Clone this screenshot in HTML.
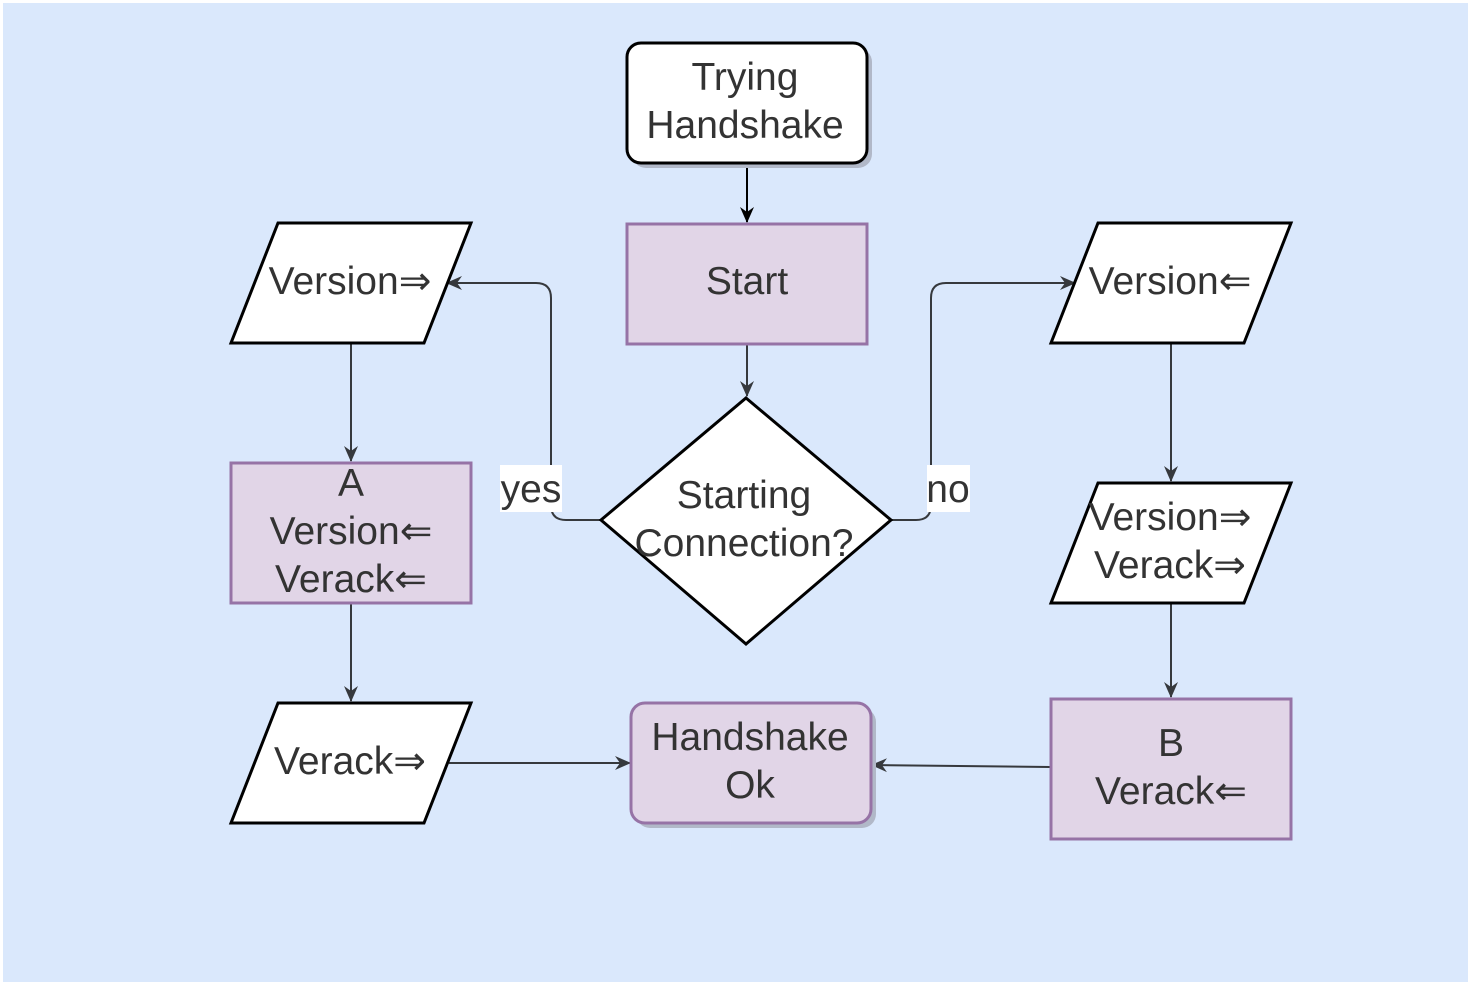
<!DOCTYPE html>
<html><head><style>html,body{margin:0;padding:0;background:#fff}svg{display:block}text{font-family:"Liberation Sans",sans-serif;font-size:39px;fill:#333;text-anchor:middle}</style></head><body>
<svg width="1470" height="984" viewBox="0 0 1470 984" xmlns="http://www.w3.org/2000/svg">
<defs><marker id="a" markerWidth="16" markerHeight="16" refX="15" refY="8" orient="auto" markerUnits="userSpaceOnUse"><path d="M0,1 L16,8 L0,15 L5,8 Z" fill="#36393d"/></marker>
<marker id="b" markerWidth="16" markerHeight="16" refX="15" refY="8" orient="auto" markerUnits="userSpaceOnUse"><path d="M0,1 L16,8 L0,15 L5,8 Z" fill="#000"/></marker></defs>
<rect x="3" y="3" width="1465" height="979" fill="#dae8fc"/>
<g fill="none" stroke="#36393d" stroke-width="2">
<path d="M747,163 V222" stroke="#000" marker-end="url(#b)"/>
<path d="M747,345 V396" marker-end="url(#a)"/>
<path d="M601,520 H566 Q551,520 551,505 V298 Q551,283 536,283 H447" marker-end="url(#a)"/>
<path d="M891,520 H916 Q931,520 931,505 V298 Q931,283 946,283 H1075" marker-end="url(#a)"/>
<path d="M351,344 V461" marker-end="url(#a)"/>
<path d="M351,604 V701" marker-end="url(#a)"/>
<path d="M449,763 H630" marker-end="url(#a)"/>
<path d="M1171,344 V481" marker-end="url(#a)"/>
<path d="M1171,604 V697" marker-end="url(#a)"/>
<path d="M1050,767 L872,765" marker-end="url(#a)"/>
</g>
<rect x="500" y="465" width="62" height="47" fill="#fff"/>
<text x="531" y="502">yes</text>
<rect x="927" y="465" width="43" height="47" fill="#fff"/>
<text x="948" y="502">no</text>
<rect x="632" y="48" width="240" height="120" rx="14" fill="#b1b8c8"/>
<rect x="627" y="43" width="240" height="120" rx="14" fill="#fff" stroke="#000" stroke-width="3"/>
<text x="745" y="90">Trying</text><text x="745" y="138">Handshake</text>
<rect x="627" y="224" width="240" height="120" fill="#e1d5e7" stroke="#9673a6" stroke-width="3"/>
<text x="747" y="294">Start</text>
<path d="M746,398 L891,520 L746,644 L601,520 Z" fill="#fff" stroke="#000" stroke-width="3"/>
<text x="744" y="508">Starting</text><text x="744" y="556">Connection?</text>
<path d="M278,223 H471 L424,343 H231 Z" fill="#fff" stroke="#000" stroke-width="3"/>
<text x="350" y="294">Version⇒</text>
<rect x="231" y="463" width="240" height="140" fill="#e1d5e7" stroke="#9673a6" stroke-width="3"/>
<text x="351" y="496">A</text><text x="351" y="544">Version⇐</text><text x="351" y="592">Verack⇐</text>
<path d="M278,703 H471 L424,823 H231 Z" fill="#fff" stroke="#000" stroke-width="3"/>
<text x="350" y="774">Verack⇒</text>
<rect x="636" y="708" width="240" height="120" rx="14" fill="#b1b8c8"/>
<rect x="631" y="703" width="240" height="120" rx="14" fill="#e1d5e7" stroke="#9673a6" stroke-width="3"/>
<text x="750" y="750">Handshake</text><text x="750" y="798">Ok</text>
<path d="M1098,223 H1291 L1244,343 H1051 Z" fill="#fff" stroke="#000" stroke-width="3"/>
<text x="1170" y="294">Version⇐</text>
<path d="M1098,483 H1291 L1244,603 H1051 Z" fill="#fff" stroke="#000" stroke-width="3"/>
<text x="1170" y="530">Version⇒</text><text x="1170" y="578">Verack⇒</text>
<rect x="1051" y="699" width="240" height="140" fill="#e1d5e7" stroke="#9673a6" stroke-width="3"/>
<text x="1171" y="756">B</text><text x="1171" y="804">Verack⇐</text>
</svg>
</body></html>
